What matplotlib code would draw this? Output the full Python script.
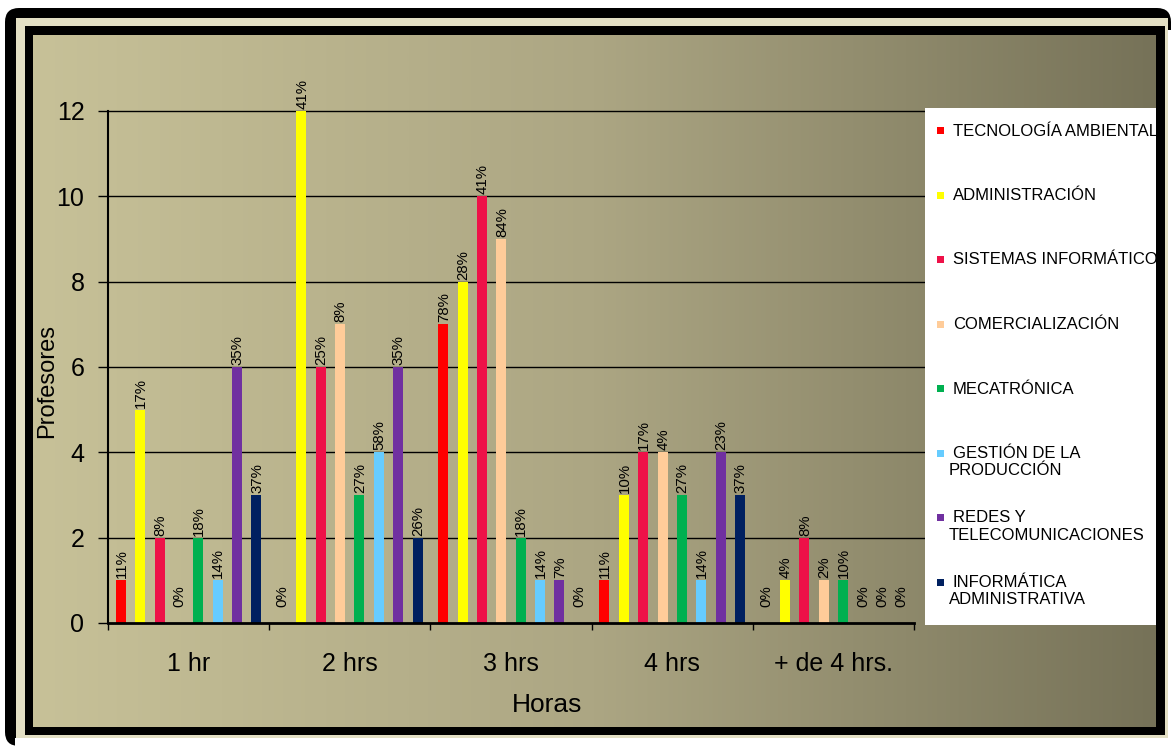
import numpy as np
import matplotlib
matplotlib.use("Agg")
import matplotlib.pyplot as plt
from matplotlib.patches import Rectangle, FancyBboxPatch
from matplotlib.colors import LinearSegmentedColormap

plt.rcParams['font.family'] = ['Liberation Sans', 'DejaVu Sans']

# Data
horas = ["1 hr", "2 hrs", "3 hrs", "4 hrs", "+ de 4 hrs."]
carreras = ["TECNOLOGÍA AMBIENTAL", "ADMINISTRACIÓN", "SISTEMAS INFORMÁTICOS",
            "COMERCIALIZACIÓN", "MECATRÓNICA", "GESTIÓN DE LA\nPRODUCCIÓN",
            "REDES Y\nTELECOMUNICACIONES", "INFORMÁTICA\nADMINISTRATIVA"]
colores = ["#FF0000", "#FFFF00", "#EE1148", "#FFCC99",
           "#00B050", "#66CCFF", "#7030A0", "#002060"]

tec_ambiental = [1, 0, 7, 1, 0]
administracion = [5, 12, 8, 3, 1]
sistemas = [2, 6, 10, 4, 2]
comercializacion = [0, 7, 9, 4, 1]
mecatronica = [2, 3, 2, 3, 1]
gestion = [1, 4, 1, 1, 0]
redes = [6, 6, 1, 4, 0]
informatica = [3, 2, 0, 3, 0]

pct_tec_ambiental = ["11%", "0%", "78%", "11%", "0%"]
pct_administracion = ["17%", "41%", "28%", "10%", "4%"]
pct_sistemas = ["8%", "25%", "41%", "17%", "8%"]
pct_comercializacion = ["0%", "8%", "84%", "4%", "2%"]
pct_mecatronica = ["18%", "27%", "18%", "27%", "10%"]
pct_gestion = ["14%", "58%", "14%", "14%", "0%"]
pct_redes = ["35%", "35%", "7%", "23%", "0%"]
pct_informatica = ["37%", "26%", "0%", "37%", "0%"]

series = [tec_ambiental, administracion, sistemas, comercializacion,
          mecatronica, gestion, redes, informatica]
etiquetas = [pct_tec_ambiental, pct_administracion, pct_sistemas, pct_comercializacion,
             pct_mecatronica, pct_gestion, pct_redes, pct_informatica]

W, H = 1173, 747
fig = plt.figure(figsize=(W / 100, H / 100), dpi=100)
fig.patch.set_facecolor("white")

# Background frame and gradient (pixel coordinates)
bg = fig.add_axes([0, 0, 1, 1], zorder=0)
bg.set_xlim(0, W)
bg.set_ylim(H, 0)
bg.axis("off")
crema = "#E3DFC4"
bg.add_patch(FancyBboxPatch((5, 8), 1166, 738, boxstyle="round,pad=0,rounding_size=14",
                            fc="black", ec="none"))
bg.add_patch(Rectangle((16, 18), 1152, 720, fc=crema, ec="none"))
bg.add_patch(Rectangle((25, 26), 1140, 709, fc="black", ec="none"))
bg.add_patch(Rectangle((1168, 30), 10, 720, fc="white", ec="none"))
bg.add_patch(Rectangle((15, 738), 1160, 12, fc="white", ec="none"))
cmap = LinearSegmentedColormap.from_list(
    "fondo", [(0.0, (199/255, 193/255, 152/255)),
              (0.5, (172/255, 166/255, 131/255)),
              (1.0, (118/255, 114/255, 88/255))])
grad = np.linspace(0, 1, 512).reshape(1, -1)
bg.imshow(grad, cmap=cmap, aspect="auto", extent=(33, 1156, 727, 35), zorder=1)
bg.set_xlim(0, W)
bg.set_ylim(H, 0)

# Main chart
ax = fig.add_axes([108 / W, (H - 623) / H, 806 / W, 512 / H], zorder=1)
ax.set_facecolor("none")
x = np.arange(len(horas))
paso = 0.12
ancho = 0.062
for i, (vals, pcts, col) in enumerate(zip(series, etiquetas, colores)):
    pos = x + (i - 3.5) * paso
    ax.bar(pos, vals, width=ancho, color=col, zorder=2)
    for px, v, s in zip(pos, vals, pcts):
        ax.annotate(s, (px, v), xytext=(0.5, 1.5 if v > 0 else 11.5),
                    textcoords="offset points", rotation=90, ha="center",
                    va="bottom", fontsize=10.8, annotation_clip=False)

ax.set_xlim(-0.5, len(horas) - 0.5)
ax.set_ylim(0, 12)
ax.set_yticks(range(0, 13, 2))
for t in range(2, 13, 2):
    ax.axhline(t, xmin=0, xmax=1.013, color="black", lw=1, zorder=0.5, clip_on=False)

ax.set_xticks(x)
ax.set_xticklabels(horas, fontsize=18)
ax.set_xticks(np.arange(-0.5, len(horas)), minor=True)
ax.tick_params(axis="x", which="major", length=0, pad=21)
ax.tick_params(axis="x", which="minor", length=5, width=1, direction="out")
ax.tick_params(axis="y", length=7, width=1, direction="out", pad=10, labelsize=18)

for s in ["top", "right"]:
    ax.spines[s].set_visible(False)
ax.spines["left"].set_linewidth(1.5)
ax.spines["bottom"].set_linewidth(2)

ax.set_xlabel("Horas", fontsize=19, va="center")
ax.xaxis.set_label_coords((547 - 108) / 806, (623 - 705) / 512)
ax.set_ylabel("Profesores", fontsize=17, va="center")
ax.yaxis.set_label_coords((47 - 108) / 806, (623 - 381) / 512)

# Legend box on overlay (pixel coordinates), clipped by frame on the right
ov = fig.add_axes([0, 0, 1, 1], zorder=10)
ov.set_xlim(0, W)
ov.set_ylim(H, 0)
ov.axis("off")
ov.patch.set_alpha(0)
ov.add_patch(Rectangle((925, 108), 240, 517, fc="white", ec="none", zorder=1))
for i, (nombre, col) in enumerate(zip(carreras, colores)):
    y0 = 131 + 64.5 * i
    ov.add_patch(Rectangle((937, y0 - 4), 7, 7, fc=col, ec="none", zorder=2))
    for j, linea in enumerate(nombre.split("\n")):
        ov.text(953 - 4 * j, y0 + 17 * j, linea, fontsize=12, va="center",
                ha="left", zorder=3)
ov.add_patch(Rectangle((1156, 26), 9, 709, fc="black", ec="none", zorder=5))
ov.add_patch(Rectangle((1165, 18), 3, 720, fc=crema, ec="none", zorder=5))
ov.add_patch(Rectangle((1168, 30), 10, 720, fc="white", ec="none", zorder=5))

fig.savefig("out.png", dpi=100)
